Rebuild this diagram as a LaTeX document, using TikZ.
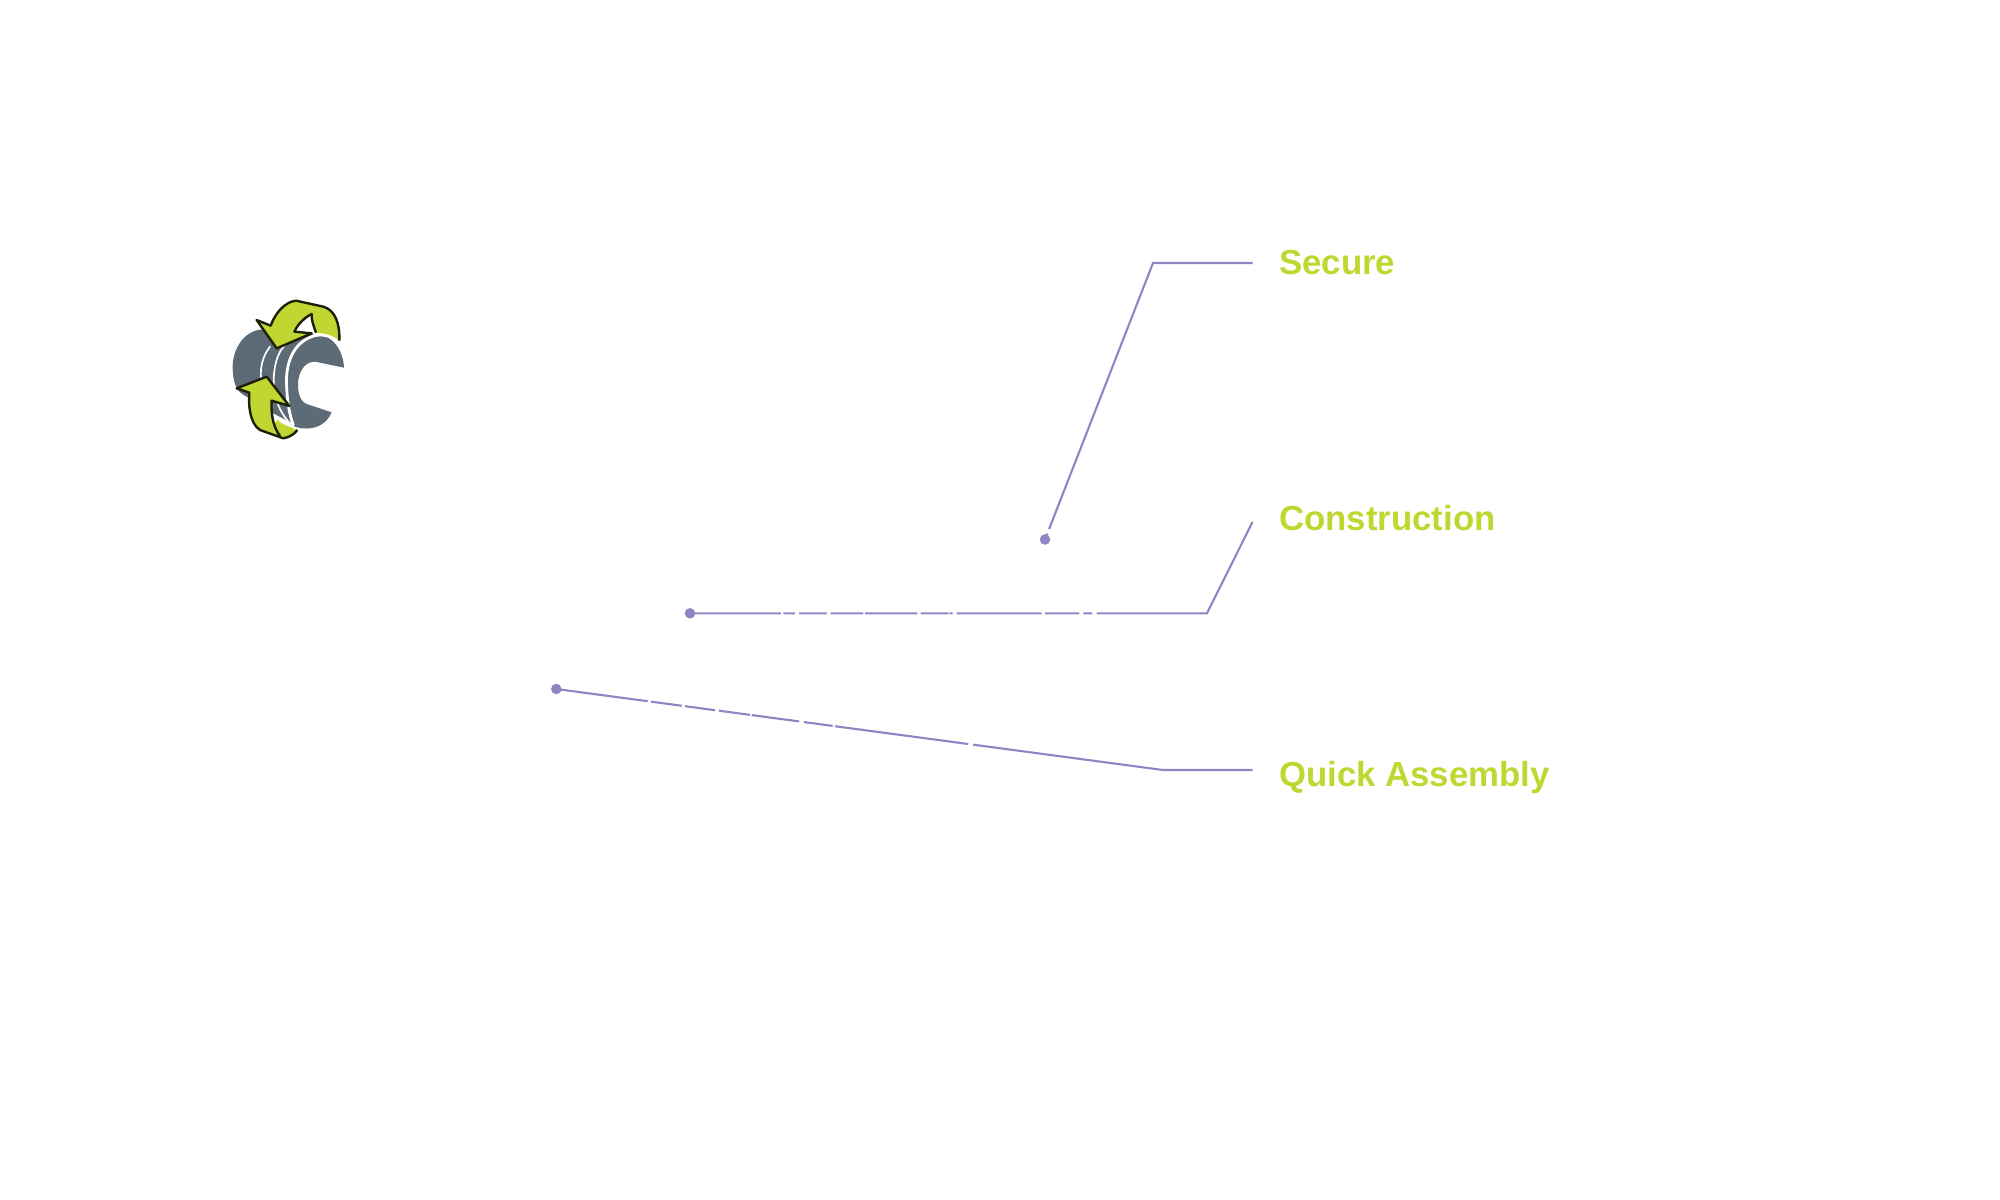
\documentclass[tikz,border=0pt]{standalone}
\usepackage{fontspec}
\setmainfont{Liberation Sans}
\usepackage{xcolor}
\usepackage{tikz}
\usetikzlibrary{positioning}
\definecolor{limegreen}{HTML}{BFD730}
\definecolor{slategrey}{HTML}{5C6B75}
\definecolor{leaderpurple}{HTML}{9085C4}
\tikzset{
  dot/.style={circle, fill=leaderpurple, inner sep=0pt, minimum size=15pt},
  leader/.style={draw=leaderpurple, line width=3pt},
  callout/.style={anchor=base west, text=limegreen, inner sep=0pt, font=\fontsize{49.5}{50}\selectfont\bfseries},
  ring/.style={draw=white, line cap=round},
  inkline/.style={draw=black!85!limegreen, line width=3.4pt, line join=round}
}
\begin{document}
\begin{tikzpicture}[x=0.05cm, y=-0.05cm]
\useasboundingbox (0,0) rectangle (2000,1200);
%
\node (D1) [dot] at (1045,539.5) {};
\node (D2) [dot] at (690,613.3) {};
\node (D3) [dot] at (556.3,689) {};
%
\coordinate (K1) at (1153,263);
\coordinate (K2) at (1207,613.3);
\coordinate (K3) at (1163,770);
\coordinate (E1) at (1252.5,263);
\coordinate (E2) at (1252.5,522);
\coordinate (E3) at (1252.5,770);
%
\node (L1) [callout] at (1279,274.5) {Secure};
\node (L2) [callout] at (1279,530) {Construction};
\node (L3) [callout] at (1279,786) {Quick Assembly};
%
\draw[leader, dash pattern=on 9pt off 7pt on 3000pt] (D1.center) -- (K1) -- (E1);
\draw[leader, dash pattern=on 129.5pt off 3.3pt on 16.6pt off 5.7pt on 39.4pt off 5.7pt on 46.5pt off 2.4pt on 74.4pt off 4.7pt on 39.4pt off 1.4pt on 4.7pt off 5.7pt on 121pt off 4.7pt on 48.8pt off 5.7pt on 12.8pt off 6.2pt on 3000pt] (D2.center) -- (K2) -- (E2);
\draw[leader, dash pattern=on 131.2pt off 4.7pt on 44.1pt off 4.7pt on 43.1pt off 5.7pt on 44.5pt off 2.4pt on 68.3pt off 6.7pt on 41.2pt off 3.7pt on 190.9pt off 7.2pt on 3000pt] (D3.center) -- (K3) -- (E3);
%
\begin{scope}[shift={(210,280)}, scale=1/3]
% body
\fill[slategrey] (160,148) .. controls (100,150) and (68,210) .. (68,260) .. controls (68,300) and (75,335) .. (110,350) -- (250,438) .. controls (275,450) and (340,455) .. (365,397) -- (290,372) .. controls (265,362) and (262,325) .. (265,300) .. controls (270,265) and (290,245) .. (315,245) -- (402,263) .. controls (400,215) and (370,165) .. (325,165) -- cycle;
\draw[ring, line width=4pt] (390,186) .. controls (360,165) and (330,160) .. (305,170) .. controls (250,190) and (225,250) .. (230,320) .. controls (232,370) and (240,410) .. (250,435);
\draw[ring, line width=2.4pt] (225,195) .. controls (195,225) and (185,290) .. (195,340) .. controls (200,375) and (220,410) .. (240,430);
\draw[ring, line width=2.4pt] (180,200) .. controls (160,225) and (150,260) .. (153,292);
\draw[ring, line width=2.4pt] (192,405) -- (245,432);
% top arrow
\fill[limegreen] (200,205) -- (140,120) -- (182,137) .. controls (195,100) and (225,65) .. (258,62) -- (340,80) .. controls (375,90) and (390,130) .. (388,182) .. controls (370,165) and (345,160) .. (318,158) .. controls (310,135) and (304,120) .. (305,102) .. controls (285,112) and (265,130) .. (253,155) -- (305,160) -- cycle;
\draw[inkline] (388,182) .. controls (390,130) and (375,90) .. (340,80) -- (258,62) .. controls (225,65) and (195,100) .. (182,137) -- (140,120) -- (200,205) -- (305,160) -- (253,155) .. controls (265,130) and (285,112) .. (305,102) .. controls (304,120) and (310,135) .. (318,158);
% bottom arrow
\fill[limegreen] (170,290) -- (80,325) -- (118,338) .. controls (115,370) and (118,430) .. (150,450) -- (220,475) .. controls (240,472) and (255,460) .. (262,450) -- (225,435) .. controls (215,430) and (208,425) .. (203,420) -- (190,435) .. controls (185,410) and (183,390) .. (185,362) -- (238,378) -- cycle;
\draw[inkline] (262,450) .. controls (255,460) and (240,472) .. (220,475) -- (150,450) .. controls (118,430) and (115,370) .. (118,338) -- (80,325) -- (170,290) -- (238,378) -- (185,362) .. controls (183,390) and (185,435) .. (210,468);
\end{scope}
\end{tikzpicture}
\end{document}
